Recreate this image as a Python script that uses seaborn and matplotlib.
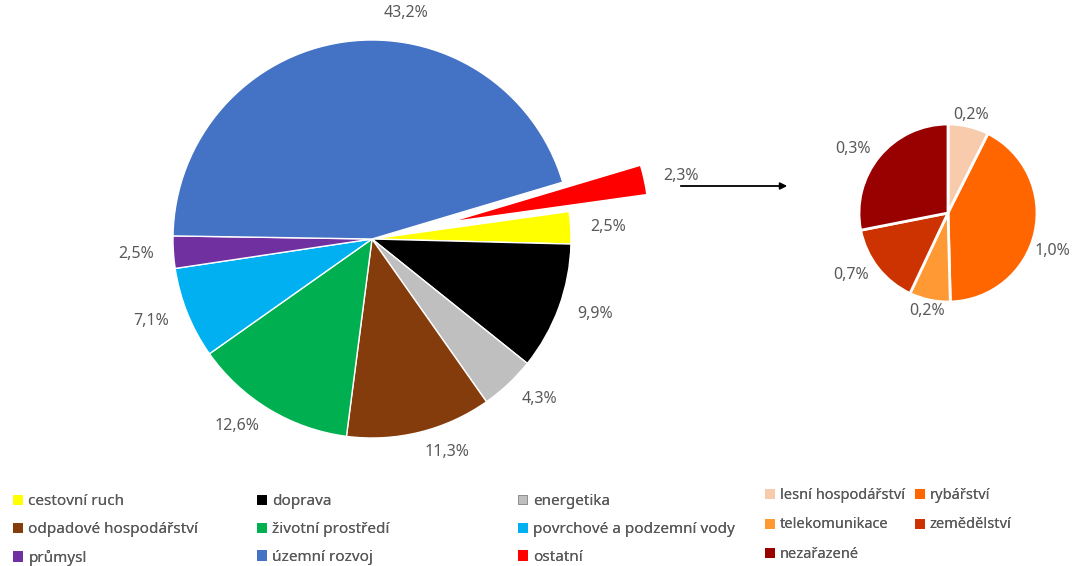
import matplotlib.pyplot as plt
import numpy as np
import seaborn as sns
from matplotlib.patches import Patch

# main pie, listed clockwise starting from the exploded "ostatní" slice
categories = [
    "ostatní", "cestovní ruch", "doprava", "energetika",
    "odpadové hospodářství", "životní prostředí",
    "povrchové a podzemní vody", "průmysl", "územní rozvoj",
]
shares = [2.3, 2.5, 9.9, 4.3, 11.3, 12.6, 7.1, 2.5, 43.2]
share_labels = ["2,3%", "2,5%", "9,9%", "4,3%", "11,3%", "12,6%", "7,1%", "2,5%", "43,2%"]
colors = [
    "#FF0000", "#FFFF00", "#000000", "#BFBFBF",
    "#843C0C", "#00B050", "#00B0F0", "#7030A0", "#4472C4",
]

# breakdown of "ostatní" (slice sizes as drawn, labels as printed)
other_categories = ["lesní hospodářství", "rybářství", "telekomunikace", "zemědělství", "nezařazené"]
other_shares = [0.18, 1.02, 0.18, 0.36, 0.68]
other_labels = ["0,2%", "1,0%", "0,2%", "0,7%", "0,3%"]
other_colors = ["#F8CBAD", "#FF6600", "#FF9933", "#CC3300", "#990000"]

# legend layout (columns as in the original)
main_legend_cols = [
    ["cestovní ruch", "odpadové hospodářství", "průmysl"],
    ["doprava", "životní prostředí", "územní rozvoj"],
    ["energetika", "povrchové a podzemní vody", "ostatní"],
]
other_legend_cols = [
    ["lesní hospodářství", "telekomunikace", "nezařazené"],
    ["rybářství", "zemědělství"],
]

TEXT = "#595959"
W, H = 1077, 566
R = 199.0
CX, CY = 372, 239


def px(x, y):
    return ((x - CX) / R, (CY - y) / R)


sns.set_theme(style="white")
plt.rcParams["font.family"] = ["Noto Sans", "DejaVu Sans"]

fig = plt.figure(figsize=(W / 100, H / 100), dpi=100)
ax = fig.add_axes([0, 0, 1, 1])

explode = [0.4 if c == "ostatní" else 0 for c in categories]
wedges, texts = ax.pie(
    shares,
    colors=colors,
    explode=explode,
    startangle=16.6,
    counterclock=False,
    labels=share_labels,
    labeldistance=1.1,
    wedgeprops=dict(edgecolor="white", linewidth=1),
    textprops=dict(color=TEXT, fontsize=11.5),
)
# Excel put the big label a bit right of the slice middle
big = categories.index("územní rozvoj")
ang = np.deg2rad(81.5)
texts[big].set_position((1.15 * np.cos(ang), 1.15 * np.sin(ang)))
texts[big].set_ha("center")

ocx, ocy = px(948, 213)
orad = 89 / R
owedges, otexts = ax.pie(
    other_shares,
    colors=other_colors,
    center=(ocx, ocy),
    radius=orad,
    startangle=90,
    counterclock=False,
    labels=other_labels,
    labeldistance=1.13,
    wedgeprops=dict(edgecolor="white", linewidth=2),
    textprops=dict(color=TEXT, fontsize=11.5),
)
# pie aligns by sign of absolute x; realign relative to the small pie's centre
for t in otexts:
    dx = t.get_position()[0] - ocx
    if abs(dx) < 0.3 * orad:
        t.set_ha("center")
    else:
        t.set_ha("left" if dx > 0 else "right")
# the 1,0% label sits lower and further out, centred, so it stays inside
ang = np.deg2rad(-20)
otexts[1].set_position((ocx + 1.25 * orad * np.cos(ang), ocy + 1.25 * orad * np.sin(ang)))
otexts[1].set_ha("center")

ax.annotate(
    "", xy=px(790, 186), xytext=px(678, 186),
    arrowprops=dict(arrowstyle="-|>", color="black", lw=1.3, mutation_scale=10),
)

ax.set_xlim(-CX / R, (W - CX) / R)
ax.set_ylim(-(H - CY) / R, CY / R)
ax.set_aspect("equal")
ax.axis("off")

color_of = dict(zip(categories + other_categories, colors + other_colors))


def legend_column(names, x, y, size, spacing):
    handles = [Patch(facecolor=color_of[n], edgecolor="#8C8C8C" if n == "energetika" else color_of[n],
                     linewidth=0.6) for n in names]
    leg = fig.legend(
        handles, names,
        loc="upper left", bbox_to_anchor=(x / W, 1 - y / H),
        frameon=False, borderpad=0, borderaxespad=0,
        handlelength=0.6, handleheight=0.6, handletextpad=0.4,
        labelspacing=spacing, fontsize=size, labelcolor=TEXT,
    )
    fig.add_artist(leg)


for names, x in zip(main_legend_cols, [13, 257, 518]):
    legend_column(names, x, 494, 11, 0.84)
for names, x in zip(other_legend_cols, [765, 915]):
    legend_column(names, x, 488, 10.5, 0.98)

fig.savefig("out.png", dpi=100)
